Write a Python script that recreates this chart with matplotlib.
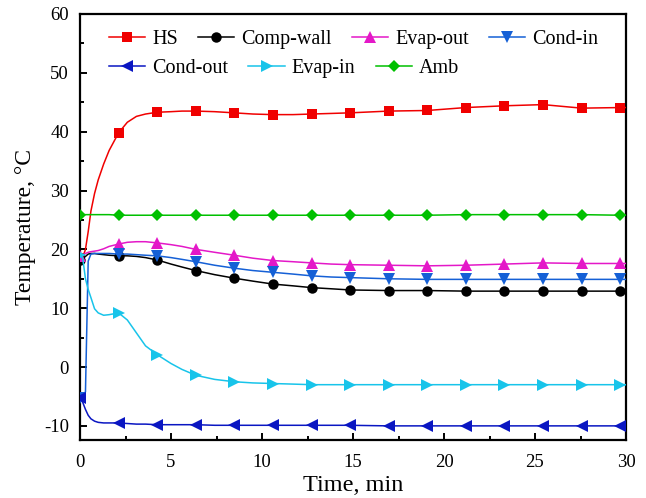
import matplotlib
matplotlib.use("Agg")
import matplotlib.pyplot as plt
from matplotlib.ticker import MultipleLocator

# Sampling times (min) and measured temperatures (°C)
time_min = [0, 0.15, 0.3, 0.45, 0.6, 0.8, 1.0, 1.3, 1.6, 2.12, 2.6, 3.1, 3.6,
            4.24, 5.0, 5.6, 6.36, 7.4, 8.48, 9.5, 10.6, 11.7, 12.72, 13.8,
            14.84, 16.96, 19.08, 21.2, 23.32, 25.44, 27.56, 29.68, 30]

# indices of the points that carry a symbol
marker_idx = [0, 9, 13, 16, 18, 20, 22, 24, 25, 26, 27, 28, 29, 30, 31]

hs = [18.5, 18.6, 20.0, 23.0, 26.5, 29.5, 31.8, 34.5, 36.8, 39.8, 41.6, 42.6,
      43.0, 43.3, 43.4, 43.5, 43.5, 43.4, 43.2, 43.0, 42.9, 42.9, 43.0, 43.1,
      43.2, 43.5, 43.6, 44.1, 44.4, 44.6, 44.0, 44.1, 44.1]

comp_wall = [18.2, 18.4, 18.8, 19.2, 19.3, 19.3, 19.2, 19.1, 19.0, 18.9, 18.9,
             18.8, 18.6, 18.2, 17.5, 17.0, 16.4, 15.7, 15.1, 14.6, 14.1, 13.8,
             13.5, 13.3, 13.1, 13.0, 13.0, 12.9, 12.9, 12.9, 12.9, 12.9, 12.9]

evap_out = [18.8, 19.0, 19.3, 19.5, 19.6, 19.7, 19.8, 20.1, 20.5, 20.9, 21.2,
            21.3, 21.3, 21.1, 20.8, 20.5, 20.0, 19.5, 19.0, 18.5, 18.1, 17.9,
            17.7, 17.5, 17.4, 17.3, 17.2, 17.3, 17.5, 17.7, 17.6, 17.6, 17.6]

cond_in = [-5.3, -5.0, -4.2, 18.0, 19.2, 19.3, 19.3, 19.3, 19.3, 19.2, 19.2,
           19.1, 19.0, 18.9, 18.6, 18.3, 17.9, 17.3, 16.8, 16.4, 16.1, 15.8,
           15.5, 15.3, 15.2, 15.0, 14.9, 14.9, 14.9, 14.9, 14.9, 14.9, 14.9]

cond_out = [-5.2, -6.0, -7.2, -8.2, -8.8, -9.2, -9.4, -9.5, -9.5, -9.5, -9.6,
            -9.7, -9.7, -9.8, -9.8, -9.8, -9.8, -9.9, -9.9, -9.9, -9.9, -9.9,
            -9.9, -9.9, -9.9, -10.0, -10.0, -10.0, -10.0, -10.0, -10.0, -10.0,
            -10.0]

evap_in = [19.0, 18.5, 15.0, 13.2, 11.8, 9.9, 9.2, 8.8, 8.9, 9.2, 8.0, 5.8,
           3.6, 2.1, 0.6, -0.4, -1.4, -2.1, -2.5, -2.7, -2.8, -2.9, -3.0, -3.0,
           -3.0, -3.0, -3.0, -3.0, -3.0, -3.0, -3.0, -3.0, -3.0]

amb = [25.9, 25.9, 25.9, 25.9, 25.9, 25.9, 25.9, 25.9, 25.9, 25.8, 25.8, 25.8,
       25.8, 25.8, 25.8, 25.8, 25.8, 25.8, 25.8, 25.8, 25.8, 25.8, 25.8, 25.8,
       25.8, 25.8, 25.8, 25.9, 25.9, 25.9, 25.9, 25.8, 25.8]

plt.rcParams["font.family"] = ["Liberation Serif", "DejaVu Serif"]
plt.rcParams["axes.unicode_minus"] = False

fig = plt.figure(figsize=(6.46, 4.98), dpi=100)
ax = fig.add_axes([80 / 646, 1 - 440 / 498, 546 / 646, 426 / 498])

series = [
    ("HS", hs, "#f00000", "s", 7.2),
    ("Comp-wall", comp_wall, "#000000", "o", 7.5),
    ("Evap-out", evap_out, "#e418c8", "^", 8.6),
    ("Cond-in", cond_in, "#1560d6", "v", 8.6),
    ("Cond-out", cond_out, "#0a16c2", "<", 8.6),
    ("Evap-in", evap_in, "#18c4ea", ">", 8.6),
    ("Amb", amb, "#00c000", "D", 6.6),
]

handles = {}
for name, vals, col, mk, ms in series:
    (ln,) = ax.plot(time_min, vals, color=col, lw=1.1, marker=mk, ms=ms,
                    markevery=marker_idx, markeredgewidth=0, label=name,
                    clip_on=True, zorder=3)
    handles[name] = ln

ax.set_xlim(0, 30)
ax.set_ylim(-12.4, 60)
ax.xaxis.set_major_locator(MultipleLocator(5))
ax.xaxis.set_minor_locator(MultipleLocator(2.5))
ax.yaxis.set_major_locator(MultipleLocator(10))
ax.yaxis.set_minor_locator(MultipleLocator(5))

ax.tick_params(which="both", direction="in", top=False, right=False,
               width=1.4, labelsize=13.5)
ax.tick_params(axis="x", which="major", length=5, pad=10)
ax.tick_params(axis="y", which="major", length=5, pad=8)
ax.tick_params(which="minor", length=3)
for sp in ax.spines.values():
    sp.set_linewidth(1.6)

ax.set_xlabel("Time, min", fontsize=17.5, labelpad=3)
ax.set_ylabel("Temperature, \u00b0C", fontsize=17, labelpad=6)

leg_kw = dict(frameon=False, fontsize=14.5, handlelength=1.8,
              handletextpad=0.35, columnspacing=1.0, borderpad=0,
              borderaxespad=0, loc="center left")
row1 = ["HS", "Comp-wall", "Evap-out", "Cond-in"]
row2 = ["Cond-out", "Evap-in", "Amb"]
leg1 = ax.legend([handles[n] for n in row1], row1, ncol=4,
                 bbox_to_anchor=(29 / 546, (440 - 39.5) / 426), **leg_kw)
ax.add_artist(leg1)
ax.legend([handles[n] for n in row2], row2, ncol=3,
          bbox_to_anchor=(29 / 546, (440 - 68.5) / 426), **leg_kw)

fig.savefig("out.png", dpi=100)
